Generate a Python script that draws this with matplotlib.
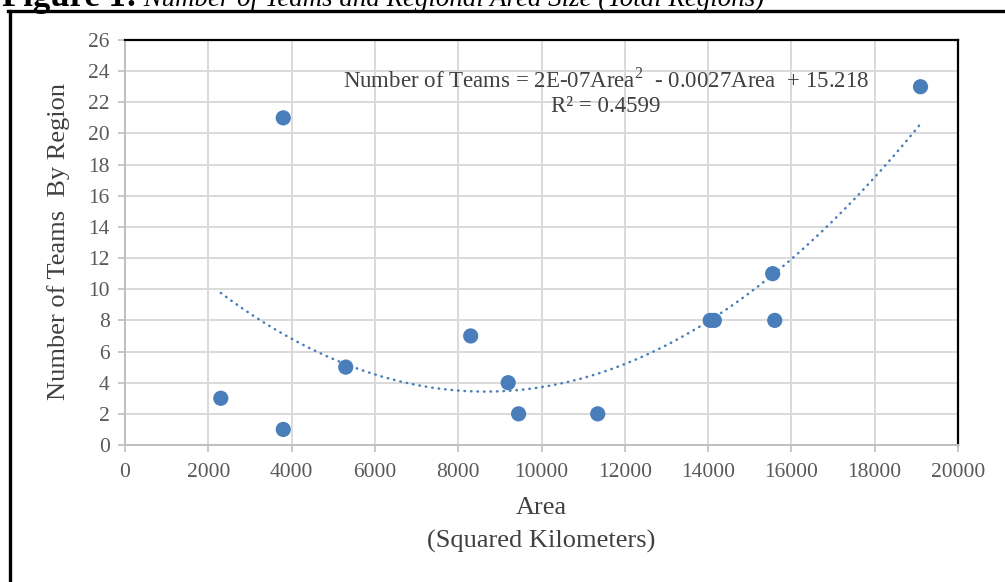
import numpy as np
import matplotlib
matplotlib.use("Agg")
import matplotlib.pyplot as plt
from matplotlib.lines import Line2D

# Data
area = [2300, 3800, 3800, 5300, 8300, 9200, 9450, 11350, 14050, 14150, 15550, 15600, 19100]
teams = [3, 21, 1, 5, 7, 4, 2, 2, 8, 8, 11, 8, 23]
x_ticks = [0, 2000, 4000, 6000, 8000, 10000, 12000, 14000, 16000, 18000, 20000]
y_ticks = list(range(0, 27, 2))
equation = "Number of Teams = 2E-07Area$^{2}$  - 0.0027Area  + 15.218"
r2_text = "R² = 0.4599"
title_bold = "Figure 1:"
title_italic = " Number of Teams and Regional Area Size (Total Regions)"

plt.rcParams['font.family'] = ['Liberation Serif', 'DejaVu Serif']
plt.rcParams['mathtext.fontset'] = 'custom'
plt.rcParams['mathtext.rm'] = 'Liberation Serif'

fig = plt.figure(figsize=(10.05, 5.82), dpi=100)
W, H = 1005, 582
ax = fig.add_axes([125 / W, 1 - 445 / H, (958 - 125) / W, (445 - 40) / H])

blue = '#4a7ebb'
grid_c = '#d9d9d9'
txt_c = '#595959'

# trendline from data
coef = np.polyfit(area, teams, 2)
xs = np.linspace(min(area), max(area), 200)
ax.plot(xs, np.polyval(coef, xs), color=blue, lw=1.8,
        linestyle=(0, (0.2, 2.4)), dash_capstyle='round', zorder=3)

ax.scatter(area, teams, s=120, color=blue, edgecolors='none', zorder=4)

ax.set_xlim(0, 20000)
ax.set_ylim(0, 26)
ax.set_xticks(x_ticks)
ax.set_yticks(y_ticks)
ax.grid(True, color=grid_c, lw=1.4, zorder=0)
ax.set_axisbelow(True)

for s in ['left', 'bottom']:
    ax.spines[s].set_color('#bfbfbf')
    ax.spines[s].set_linewidth(1.4)
for s in ['top', 'right']:
    ax.spines[s].set_color('black')
    ax.spines[s].set_linewidth(1.6)

ax.tick_params(axis='both', colors='#bfbfbf', labelcolor=txt_c, labelsize=15.5,
               length=5, width=1.2, direction='out')
ax.tick_params(axis='x', pad=8)
ax.tick_params(axis='y', pad=6)

fig.text(59 / W, 1 - 241 / H, "Number of Teams  By Region", fontsize=19, color='#404040',
         ha='center', va='center', rotation=90)
fig.text(541 / W, 1 - 508 / H, "Area", fontsize=19, color='#404040', ha='center', va='center')
fig.text(541 / W, 1 - 541 / H, "(Squared Kilometers)", fontsize=19, color='#404040', ha='center', va='center')

fig.text(606 / W, 1 - 80 / H, equation, fontsize=16.5, color='#404040', ha='center', va='center')
fig.text(606 / W, 1 - 106 / H, r2_text, fontsize=16.5, color='#404040', ha='center', va='center')

# title (partially cut at top, as in the source)
fig.text(137 / W, 1 - 6 / H, title_bold, fontsize=25, fontweight='bold', color='black',
         ha='right', va='baseline')
fig.text(137 / W, 1 - 6 / H, title_italic, fontsize=19.4, style='italic', color='black',
         ha='left', va='baseline')

# frame lines
fig.add_artist(Line2D([9.5 / W, 9.5 / W], [0, 1 - 11 / H], transform=fig.transFigure, color='black', lw=2.4))
fig.add_artist(Line2D([8.3 / W, 1], [1 - 11 / H, 1 - 11 / H], transform=fig.transFigure, color='black', lw=2.4))

fig.savefig("out.png", dpi=100)
